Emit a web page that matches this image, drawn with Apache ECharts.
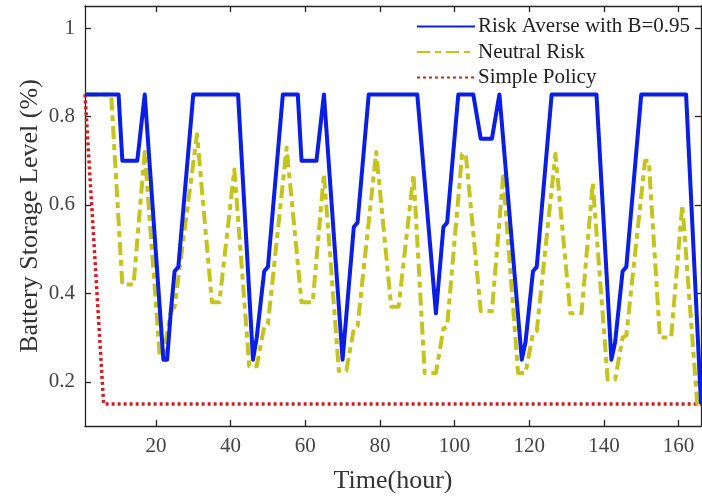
<!DOCTYPE html>
<html>
<head>
<meta charset="utf-8">
<script src="https://cdn.jsdelivr.net/npm/echarts@6/dist/echarts.min.js"></script>
<style>html,body{margin:0;padding:0;background:#fff}#c{width:702px;height:500px}</style>
</head>
<body>
<div id="c"></div>
<script>
// Risk Averse with B=0.95 (vertices: hour, level)
const averseHours  = [1,10,11,15,17,22,23,24,25,26,30,42,46,47,49,50,54,58,59,63,65,70,73,74,77,90,95,97,98,101,105,107,110,112,118,119,121,122,126,138,142,143,145,146,150,162,166];
const averseLevels = [0.85,0.85,0.70,0.70,0.85,0.25,0.25,0.36,0.45,0.46,0.85,0.85,0.25,0.30,0.45,0.46,0.85,0.85,0.70,0.70,0.85,0.25,0.55,0.56,0.85,0.85,0.355,0.55,0.56,0.85,0.85,0.75,0.75,0.85,0.25,0.29,0.45,0.46,0.85,0.85,0.25,0.29,0.45,0.46,0.85,0.85,0.15];
// Neutral Risk
const neutralHours  = [1,8,11,14,17,21,22,24,25,31,35,37,41,45,47,49,50,55,59,62,65,69,71,73,74,79,83,85,89,92,95,97,98,102,103,107,110,113,117,119,121,122,127,131,134,137,141,143,145,146,151,152,155,158,161,165,166];
const neutralLevels = [0.85,0.85,0.42,0.42,0.72,0.26,0.26,0.36,0.37,0.76,0.38,0.38,0.68,0.235,0.235,0.325,0.33,0.73,0.38,0.38,0.67,0.225,0.225,0.32,0.325,0.72,0.37,0.37,0.67,0.22,0.22,0.32,0.325,0.715,0.715,0.36,0.36,0.665,0.22,0.22,0.31,0.315,0.715,0.355,0.355,0.65,0.205,0.205,0.30,0.305,0.70,0.70,0.30,0.30,0.60,0.15,0.15];
// Simple Policy
const simpleHours  = [1,6,166];
const simpleLevels = [0.85,0.15,0.15];

const xTicks = [20,40,60,80,100,120,140,160];
const yTicks = [0.2,0.4,0.6,0.8,1];
const xRange = [1,166];
const yRange = [0.1,1.05];

const zip = (a,b) => a.map((v,i)=>[v,b[i]]);
const font = 'Liberation Serif';
const axisLineStyle = {color:'#262626', width:1.3};

const chart = echarts.init(document.getElementById('c'), null, {renderer:'canvas'});
const xBase = {
  type:'value', min:xRange[0], max:xRange[1],
  axisLine:{show:true, onZero:false, lineStyle:axisLineStyle},
  axisTick:{show:true, inside:true, length:6, customValues:xTicks, lineStyle:axisLineStyle},
  splitLine:{show:false}
};
const yBase = {
  type:'value', min:yRange[0], max:yRange[1],
  axisLine:{show:true, onZero:false, lineStyle:axisLineStyle},
  axisTick:{show:true, inside:true, length:6, customValues:yTicks, lineStyle:axisLineStyle},
  splitLine:{show:false}
};
chart.setOption({
  animation:false,
  backgroundColor:'#fff',
  grid:{left:85, right:1, top:6, bottom:74, containLabel:false, outerBoundsMode:'none'},
  legend:{
    orient:'vertical', left:416, top:16, padding:0,
    itemWidth:58, itemHeight:14, itemGap:4.5,
    itemStyle:{opacity:0},
    textStyle:{fontFamily:font, fontSize:21, lineHeight:21, color:'#222', padding:[0,0,0,-2]},
    data:['Risk Averse with B=0.95','Neutral Risk','Simple Policy']
  },
  xAxis:[
    Object.assign({}, xBase, {
      position:'bottom', name:'Time(hour)', nameLocation:'middle', nameGap:42, nameMoveOverlap:false,
      nameTextStyle:{fontFamily:font, fontSize:26, color:'#333'},
      axisLabel:{show:true, customValues:xTicks, fontFamily:font, fontSize:21, color:'#444', margin:10}
    }),
    Object.assign({}, xBase, {position:'top',
      axisLabel:{show:true, customValues:xTicks, formatter:()=>''}})
  ],
  yAxis:[
    Object.assign({}, yBase, {
      position:'left', name:'Battery Storage Level (%)', nameLocation:'middle', nameGap:42, nameMoveOverlap:false,
      nameTextStyle:{fontFamily:font, fontSize:26, color:'#333'},
      axisLabel:{show:true, customValues:yTicks, fontFamily:font, fontSize:21, color:'#444', margin:10,
        formatter:v=>String(Math.round(v*10)/10)}
    }),
    Object.assign({}, yBase, {position:'right',
      axisLabel:{show:true, customValues:yTicks, formatter:()=>''}})
  ],
  series:[
    {name:'Simple Policy', type:'line', data:zip(simpleHours,simpleLevels), symbol:'none', z:1,
     itemStyle:{color:'#d41e1e'}, lineStyle:{color:'#d41e1e', width:3.5, type:[3,3], cap:'butt'}},
    {name:'Neutral Risk', type:'line', data:zip(neutralHours,neutralLevels), symbol:'none', z:2,
     itemStyle:{color:'#c4c41e'}, lineStyle:{color:'#c4c41e', width:4, type:[13,5,6,5], cap:'butt', join:'round'}},
    {name:'Risk Averse with B=0.95', type:'line', data:zip(averseHours,averseLevels), symbol:'none', z:3,
     itemStyle:{color:'#0a1ee6'}, lineStyle:{color:'#0a1ee6', width:4, join:'round'}}
  ]
});
</script>
</body>
</html>
